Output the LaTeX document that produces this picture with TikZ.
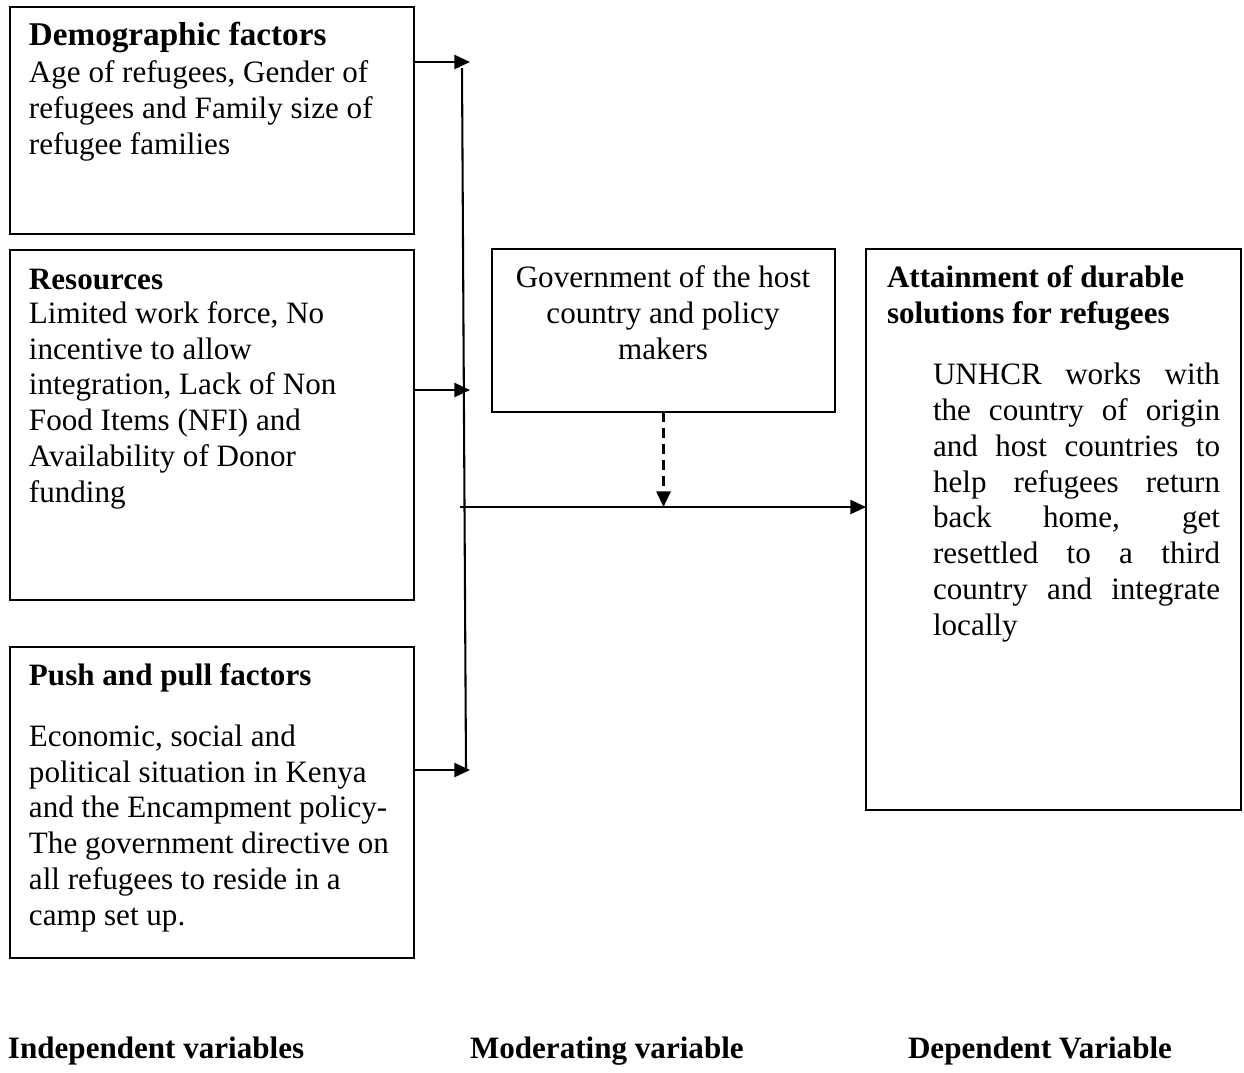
\documentclass[tikz,border=0pt]{standalone}
\usepackage{fontspec}
\setmainfont{Liberation Serif}
\usetikzlibrary{arrows.meta,calc}
\newcommand\jline[1]{\makebox[110.8pt][s]{#1}}
\begin{document}
\begin{tikzpicture}[x=0.386pt,y=-0.386pt,
  box/.style={draw,line width=0.8pt,inner sep=0pt,outer sep=0pt,anchor=north west},
  txt/.style={inner sep=0pt,outer sep=0pt,anchor=base west,align=left,font=\fontsize{12pt}{13.8pt}\selectfont},
  head/.style={txt,font=\fontsize{12pt}{13.8pt}\selectfont\bfseries},
  arr/.style={line width=0.8pt,-{Triangle[length=6pt,width=5.4pt]}},
  conn/.style={line width=0.8pt}]
\useasboundingbox (0,0) rectangle (1244,1072);

% boxes
\node[box,minimum width=404*0.386pt,minimum height=227*0.386pt] (demo) at (10,7) {};
\node[box,minimum width=404*0.386pt,minimum height=350*0.386pt] (res) at (10,250) {};
\node[box,minimum width=404*0.386pt,minimum height=311*0.386pt] (push) at (10,647) {};
\node[box,minimum width=343*0.386pt,minimum height=163*0.386pt] (gov) at (492,249) {};
\node[box,minimum width=375*0.386pt,minimum height=561*0.386pt] (att) at (866,249) {};

% texts (multi-line nodes are placed by the baseline of their last line)
\node[head,font=\fontsize{12.8pt}{14pt}\selectfont\bfseries] (demoH) at (29,45) {Demographic factors};
\node[txt] (demoB) at (29,154) {Age of refugees, Gender of\\refugees and Family size of\\refugee families};

\node[head] (resH) at (29,289) {Resources};
\node[txt] (resB) at (29,502) {Limited work force, No\\incentive to allow\\integration, Lack of Non\\Food Items (NFI) and\\Availability of Donor\\funding};

\node[head] (pushH) at (29,685) {Push and pull factors};
\node[txt] (pushB) at (29,925) {Economic, social and\\political situation in Kenya\\and the Encampment policy-\\The government directive on\\all refugees to reside in a\\camp set up.};

\node[txt,anchor=base,align=center] (govT) at (663,359) {Government of the host\\country and policy\\makers};

\node[head] (attH) at (887,323) {Attainment of durable\\solutions for refugees};
\node[txt] (attB) at (933,635) {\jline{UNHCR works with}\\\jline{the country of origin}\\\jline{and host countries to}\\\jline{help refugees return}\\\jline{back home, get}\\\jline{resettled to a third}\\\jline{country and integrate}\\locally};

\node[head] (lab1) at (8,1058) {Independent variables};
\node[head] (lab2) at (470,1058) {Moderating variable};
\node[head] (lab3) at (908,1058) {Dependent Variable};

% connectors
\coordinate (a1) at (470,62);
\coordinate (a2) at (470,390);
\coordinate (a3) at (470,770);
\draw[arr] (demo.east |- a1) -- (a1);
\draw[arr] (res.east |- a2) -- (a2);
\draw[arr] (push.east |- a3) -- (a3);
\coordinate (vtop) at (462,68);
\coordinate (vbot) at (466,770);
\draw[conn] (vtop) -- (vbot);
\coordinate (hs) at (460,507);
\draw[arr] (hs) -- (att.west |- hs);
\draw[arr,line width=1pt,dash pattern=on 3.8pt off 2.4pt] (gov.south) -- (gov.south |- hs);
\end{tikzpicture}
\end{document}
